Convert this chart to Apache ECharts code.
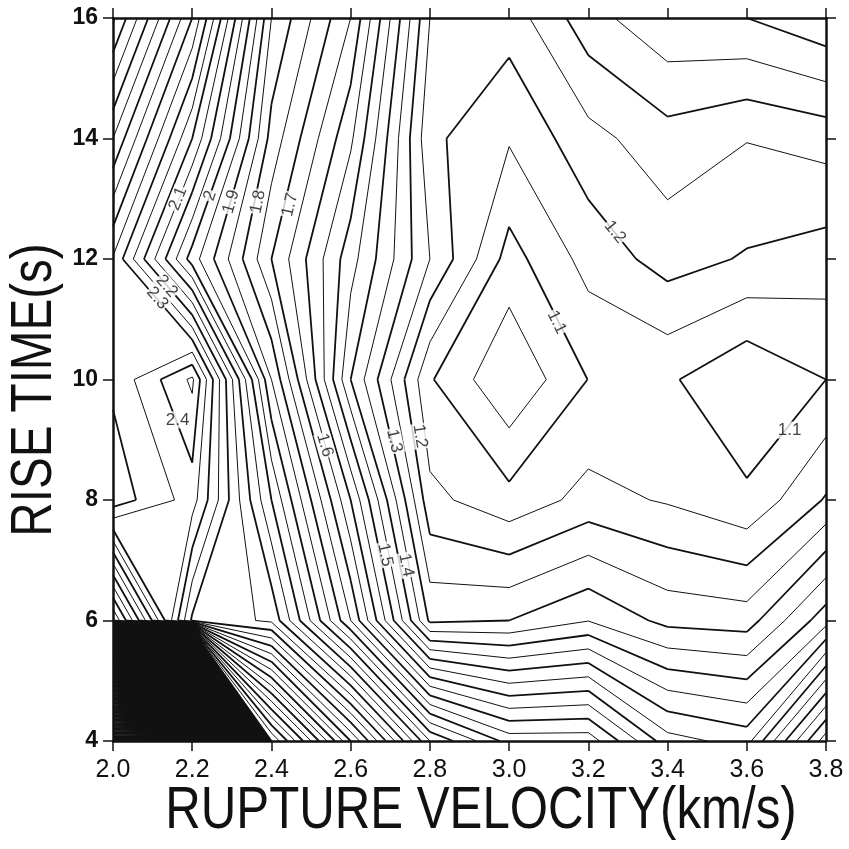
<!DOCTYPE html>
<html><head><meta charset="utf-8">
<script src="https://cdn.jsdelivr.net/npm/echarts@6/dist/echarts.min.js"></script>
<style>html,body{margin:0;padding:0;background:#fff}#c{width:849px;height:849px}</style>
</head><body><div id="c"></div>
<script>
// ---- data: misfit grid (rupture velocity x rise time) ----
const velocities = [2.0, 2.2, 2.4, 2.6, 2.8, 3.0, 3.2, 3.4, 3.6, 3.8];
const riseTimes = [4, 6, 8, 10, 12, 14, 16];
const misfitRT4  = [12.0, 12.0, 2.9, 2.4, 1.95, 1.78, 1.78, 1.57, 1.53, 1.88];
const misfitRT6  = [2.8, 2.19, 2.14, 1.75, 1.29, 1.30, 1.348, 1.285, 1.276, 1.43];
const misfitRT8  = [2.27, 2.373, 2.0, 1.60, 1.164, 1.117, 1.167, 1.145, 1.11, 1.205];
const misfitRT10 = [2.31, 2.46, 1.85, 1.40, 1.105, 1.005, 1.101, 1.108, 1.055, 1.10];
const misfitRT12 = [2.345, 1.975, 1.70, 1.47, 1.25, 1.08, 1.168, 1.221, 1.195, 1.175];
const misfitRT14 = [2.55, 2.20, 1.78, 1.56, 1.212, 1.155, 1.233, 1.28, 1.252, 1.27];
const misfitRT16 = [2.76, 2.40, 1.85, 1.65, 1.25, 1.222, 1.33, 1.39, 1.40, 1.44];
const contourStart = 1.05;
const contourStep = 0.05;
const xTicks = [2.0, 2.2, 2.4, 2.6, 2.8, 3.0, 3.2, 3.4, 3.6, 3.8];
const yTicks = [4, 6, 8, 10, 12, 14, 16];
// annotated contours: [velocity, rise time, text, fixed angle or null]
const contourLabels = [
  [2.164, 13.0, '2.1', null], [2.245, 13.05, '2', null], [2.298, 12.95, '1.9', null],
  [2.366, 12.95, '1.8', null], [2.447, 12.9, '1.7', null], [2.136, 11.55, '2.2', null],
  [2.112, 11.35, '2.3', null], [2.163, 9.33, '2.4', 0], [2.535, 8.91, '1.6', null],
  [2.71, 8.98, '1.3', null], [2.775, 9.06, '1.2', null], [2.687, 7.09, '1.5', null],
  [2.74, 6.92, '1.4', null], [3.267, 12.45, '1.2', null], [3.12, 10.95, '1.1', null],
  [3.708, 9.16, '1.1', 0]
];

const grid = [misfitRT4, misfitRT6, misfitRT8, misfitRT10, misfitRT12, misfitRT14, misfitRT16];

// ---- marching squares ----
let zmax = -Infinity;
grid.forEach(r => r.forEach(v => { if (v > zmax) zmax = v; }));
const levels = [];
for (let k = 0; ; k++) {
  const L = Math.round((contourStart + k * contourStep) * 1000) / 1000;
  if (L > zmax) break;
  levels.push(L);
}
function ip(p, q, vp, vq, L) {
  const t = (L - vp) / (vq - vp);
  return [p[0] + t * (q[0] - p[0]), p[1] + t * (q[1] - p[1])];
}
const segsByLevel = {};
levels.forEach(L => segsByLevel[L] = []);
for (let j = 0; j < riseTimes.length - 1; j++) {
  for (let i = 0; i < velocities.length - 1; i++) {
    const P = [[velocities[i], riseTimes[j]], [velocities[i + 1], riseTimes[j]],
               [velocities[i + 1], riseTimes[j + 1]], [velocities[i], riseTimes[j + 1]]];
    const V = [grid[j][i], grid[j][i + 1], grid[j + 1][i + 1], grid[j + 1][i]];
    const center = (V[0] + V[1] + V[2] + V[3]) / 4;
    levels.forEach(L => {
      const up = V.map(v => v >= L);
      const pts = [];
      for (let e = 0; e < 4; e++) {
        const a = e, b = (e + 1) % 4;
        pts.push(up[a] !== up[b] ? ip(P[a], P[b], V[a], V[b], L) : null);
      }
      const found = pts.filter(p => p);
      if (found.length === 2) {
        segsByLevel[L].push([found[0], found[1]]);
      } else if (found.length === 4) {
        if ((center >= L) === up[0]) {
          segsByLevel[L].push([pts[0], pts[1]], [pts[2], pts[3]]);
        } else {
          segsByLevel[L].push([pts[3], pts[0]], [pts[1], pts[2]]);
        }
      }
    });
  }
}
const thickData = [], thinData = [];
levels.forEach(L => {
  const major = Math.round(L * 100) % 10 === 0;
  const target = major ? thickData : thinData;
  segsByLevel[L].forEach(s => { target.push(s[0], s[1], '-'); });
});

// ---- fonts (original uses a condensed Helvetica for the axis titles) ----
const cv = document.createElement('canvas').getContext('2d');
function w(font, t) { cv.font = font; return cv.measureText(t).width; }
const REG = '"Liberation Sans", Arial, sans-serif';
const xTitle = 'RUPTURE VELOCITY(km/s)', yTitle = 'RISE TIME(s)';
const condense = 0.82;
const titleSize = Math.round(40 * 627 / (condense * w('40px ' + REG, xTitle)));

const chart = echarts.init(document.getElementById('c'), null, { renderer: 'canvas' });
const axisCommon = {
  type: 'value', splitLine: { show: false },
  axisLine: { show: true, lineStyle: { color: '#111', width: 2.5 } },
  axisTick: { show: true, inside: false, length: 10, lineStyle: { color: '#111', width: 1.5 } }
};
const option = {
  animation: false,
  backgroundColor: '#fff',
  grid: { left: 113, right: 23, top: 18, bottom: 108 },
  xAxis: [
    Object.assign({}, axisCommon, {
      min: xTicks[0], max: xTicks[xTicks.length - 1], interval: 0.2, position: 'bottom',
      axisLabel: { formatter: v => v.toFixed(1), fontSize: 25, color: '#111',
                   fontFamily: REG, margin: 17 }
    }),
    Object.assign({}, axisCommon, {
      min: xTicks[0], max: xTicks[xTicks.length - 1], interval: 0.2, position: 'top',
      axisLabel: { show: false }
    })
  ],
  yAxis: [
    Object.assign({}, axisCommon, {
      min: yTicks[0], max: yTicks[yTicks.length - 1], interval: 2, position: 'left',
      axisLabel: { fontSize: 23, color: '#111', fontFamily: REG, fontWeight: 'bold', margin: 15 }
    }),
    Object.assign({}, axisCommon, {
      min: yTicks[0], max: yTicks[yTicks.length - 1], interval: 2, position: 'right',
      axisLabel: { show: false }
    })
  ],
  graphic: [
    { type: 'text', x: 481, y: 811, scaleX: condense, silent: true,
      style: { text: xTitle, fontSize: titleSize, fontFamily: REG, fill: '#111',
               textAlign: 'center', textVerticalAlign: 'middle' } },
    { type: 'text', x: 35, y: 390, rotation: Math.PI / 2, scaleX: condense, silent: true,
      style: { text: yTitle, fontSize: titleSize - 2, fontFamily: REG, fill: '#111',
               textAlign: 'center', textVerticalAlign: 'middle' } }
  ],
  series: [
    { type: 'line', data: thinData, showSymbol: false, connectNulls: false, silent: true,
      lineStyle: { color: '#111', width: 1.0 }, z: 2 },
    { type: 'line', data: thickData, showSymbol: false, connectNulls: false, silent: true,
      lineStyle: { color: '#111', width: 1.8 }, z: 3 }
  ]
};
chart.setOption(option);

// contour labels rotated along their contour, with a white knock-out
function nearestAngle(x, y, L) {
  const segs = segsByLevel[L] || [];
  let best = null, bd = Infinity;
  const p0 = chart.convertToPixel({ gridIndex: 0 }, [x, y]);
  segs.forEach(s => {
    const a = chart.convertToPixel({ gridIndex: 0 }, s[0]);
    const b = chart.convertToPixel({ gridIndex: 0 }, s[1]);
    const mx = (a[0] + b[0]) / 2, my = (a[1] + b[1]) / 2;
    const d = (mx - p0[0]) ** 2 + (my - p0[1]) ** 2;
    if (d < bd) { bd = d; best = [a, b]; }
  });
  if (!best) return 0;
  let ang = Math.atan2(-(best[1][1] - best[0][1]), best[1][0] - best[0][0]) * 180 / Math.PI;
  if (ang > 90) ang -= 180;
  if (ang <= -90) ang += 180;
  return ang;
}
const labelData = contourLabels.map(l => {
  const L = Math.round(parseFloat(l[2]) * 1000) / 1000;
  return {
    value: [l[0], l[1]],
    label: { show: true, formatter: l[2], rotate: l[3] === null ? nearestAngle(l[0], l[1], L) : l[3] }
  };
});
chart.setOption({
  series: [{}, {}, {
    type: 'scatter', data: labelData, symbolSize: 0, silent: true, z: 5,
    label: { position: 'inside', fontSize: 17, color: '#111', fontFamily: REG,
             backgroundColor: '#fff', padding: [0, 1] }
  }]
});
</script></body></html>
